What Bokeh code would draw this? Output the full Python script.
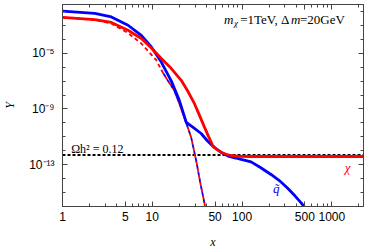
from bokeh.plotting import figure
from bokeh.models import LogAxis, FixedTicker, CustomJSTickFormatter, Range1d
from bokeh.core.properties import value
from bokeh.embed import file_html
from bokeh.resources import INLINE

# ---- data ----
# chi abundance (red solid)
x_chi = [1, 2.29, 3.5, 5.37, 7.55, 9.76, 12.6, 16.3, 21, 25, 29.5, 33, 38.1, 42.5, 47.1, 52, 58.4, 66, 75.6, 90, 126, 200, 500, 1000, 2250]
log10_Y_chi = [-2.43, -2.58, -2.79, -3.35, -3.94, -4.62, -5.38, -6.10, -6.94, -7.75, -8.62, -9.35, -10.30, -11.0, -11.62, -11.90, -12.10, -12.25, -12.34, -12.40, -12.41, -12.41, -12.41, -12.41, -12.41]

# squark abundance (blue solid)
x_sq = [1, 2.29, 3.5, 5.37, 7.55, 9.76, 12.6, 16.3, 20, 23.9, 29, 35, 41, 48.9, 58, 70, 85, 97.5, 126, 160, 210, 260, 322, 390, 452, 541]
log10_Y_sq = [-1.98, -2.14, -2.39, -2.99, -3.71, -4.55, -5.63, -7.0, -8.38, -9.96, -10.36, -10.76, -11.28, -11.76, -12.10, -12.38, -12.52, -12.62, -12.80, -13.20, -13.70, -14.14, -14.69, -15.25, -15.72, -16.35]

# equilibrium abundances (dashed)
x_chi_eq = [1, 2.29, 3.5, 5.37, 7.55, 9.76, 11.1, 12.6, 14.5, 17.5, 20, 22.7, 27.1, 30.8, 34.5, 38.8]
log10_Y_chi_eq = [-2.43, -2.60, -2.87, -3.55, -4.30, -5.10, -5.50, -6.2, -6.85, -7.66, -8.6, -9.60, -11.04, -12.70, -14.4, -16.0]
x_sq_eq = [12.6, 14.5, 17.5, 20, 22.7, 27.1, 30.8, 34.5, 38.8]
log10_Y_sq_eq = [-6.2, -6.85, -7.66, -8.6, -9.60, -11.04, -12.70, -14.4, -16.0]

# relic density reference line
x_ref = [1, 2250]
Y_ref = [5.0e-13, 5.0e-13]

x_major_ticks = [1, 5, 10, 50, 100, 500, 1000]
x_minor_ticks = [2, 3, 4, 6, 7, 8, 9, 20, 30, 40, 60, 70, 80, 90, 200, 300, 400, 600, 700, 800, 900, 2000]
y_major_ticks = [1e-13, 1e-9, 1e-5]
y_minor_ticks = [1e-2, 1e-3, 1e-4, 1e-6, 1e-7, 1e-8, 1e-10, 1e-11, 1e-12, 1e-14, 1e-15]

Y_chi = [10 ** v for v in log10_Y_chi]
Y_sq = [10 ** v for v in log10_Y_sq]
Y_chi_eq = [10 ** v for v in log10_Y_chi_eq]
Y_sq_eq = [10 ** v for v in log10_Y_sq_eq]

RED = "#ff0000"
BLUE = "#0000ff"
FRAME = "#444444"
SERIF = value("Liberation Serif")

p = figure(width=369, height=252, x_axis_type="log", y_axis_type="log",
           x_range=Range1d(1, 2250), y_range=Range1d(1e-16, 10 ** -1.5),
           output_backend="svg", toolbar_location=None, title=None,
           min_border_left=61, min_border_right=6, min_border_top=4, min_border_bottom=46)
p.xgrid.visible = False
p.ygrid.visible = False
p.outline_line_color = FRAME
p.background_fill_color = "white"
p.border_fill_color = "white"

xticker = FixedTicker(ticks=x_major_ticks, minor_ticks=x_minor_ticks)
yticker = FixedTicker(ticks=y_major_ticks, minor_ticks=y_minor_ticks)

sup_code = """
const sup = {'-':'\u207b','0':'\u2070','1':'\u00b9','2':'\u00b2','3':'\u00b3','4':'\u2074','5':'\u2075','6':'\u2076','7':'\u2077','8':'\u2078','9':'\u2079'};
const e = Math.round(Math.log10(tick));
return '10' + String(e).split('').map(c => sup[c]).join('');
"""

xa = p.xaxis[0]
xa.ticker = xticker
xa.formatter = CustomJSTickFormatter(code="return String(Math.round(tick));")
ya = p.yaxis[0]
ya.ticker = yticker
ya.formatter = CustomJSTickFormatter(code=sup_code)

for ax in (xa, ya):
    ax.axis_line_color = FRAME
    ax.major_tick_line_color = FRAME
    ax.minor_tick_line_color = FRAME
    ax.major_tick_in = 5
    ax.major_tick_out = 0
    ax.minor_tick_in = 3
    ax.minor_tick_out = 0
    ax.major_label_text_font = "Liberation Sans"
    ax.major_label_text_font_size = "12px"
    ax.major_label_text_color = "black"
    ax.axis_label_text_font = "Liberation Serif"
    ax.axis_label_text_font_style = "italic"
    ax.axis_label_text_font_size = "12px"
    ax.axis_label_text_color = "black"

xa.axis_label = "x"
xa.major_label_standoff = 5
xa.axis_label_standoff = 11
ya.axis_label = "Y"
ya.major_label_standoff = 8
ya.axis_label_standoff = 9

blank = CustomJSTickFormatter(code="return '';")
top = LogAxis(ticker=xticker, formatter=blank)
right = LogAxis(ticker=yticker, formatter=blank)
for ax in (top, right):
    ax.axis_line_color = FRAME
    ax.major_tick_line_color = FRAME
    ax.minor_tick_line_color = FRAME
    ax.major_tick_in = 5
    ax.major_tick_out = 0
    ax.minor_tick_in = 3
    ax.minor_tick_out = 0
    ax.major_label_standoff = 0
    ax.major_label_text_font_size = "1px"
p.add_layout(top, "above")
p.add_layout(right, "right")

# curves
p.line(x_ref, Y_ref, line_color="black", line_width=2, line_dash="3 2")
p.line(x_sq_eq, Y_sq_eq, line_color=BLUE, line_width=1.8, line_dash="4 3", line_dash_offset=3)
p.line(x_chi_eq, Y_chi_eq, line_color=RED, line_width=1.8, line_dash="4 3")
p.line(x_sq, Y_sq, line_color=BLUE, line_width=2.8)
p.line(x_chi, Y_chi, line_color=RED, line_width=2.8)

# annotations
fs = "13px"
p.text(x=[63], y=[10 ** -2.55], text=["m"], text_font=SERIF, text_font_style="italic",
       text_font_size=fs, text_baseline="alphabetic", text_align="left", text_color="black")
p.text(x=[81.5], y=[10 ** -2.8], text=["\u03c7"], text_font=SERIF, text_font_style="italic",
       text_font_size="9px", text_baseline="alphabetic", text_align="left", text_color="black")
p.text(x=[95.2], y=[10 ** -2.55], text=["=1TeV, \u0394"], text_font=SERIF,
       text_font_size=fs, text_baseline="alphabetic", text_align="left", text_color="black")
p.text(x=[10 ** (229 / 90)], y=[10 ** -2.55], text=["m"], text_font=SERIF, text_font_style="italic",
       text_font_size=fs, text_baseline="alphabetic", text_align="left", text_color="black")
p.text(x=[10 ** (238 / 90)], y=[10 ** -2.55], text=["=20GeV"], text_font=SERIF,
       text_font_size=fs, text_baseline="alphabetic", text_align="left", text_color="black")

p.text(x=[1.25], y=[10 ** -11.85], text=["\u03a9h\u00b2 = 0.12"], text_font=SERIF,
       text_font_size="12px", text_baseline="alphabetic", text_align="left", text_color="black")
p.text(x=[1500], y=[10 ** -13.2], text=["\u03c7"], text_font=SERIF, text_font_style="italic",
       text_font_size="13px", text_baseline="middle", text_align="center", text_color=RED)
p.text(x=[240], y=[10 ** -14.71], text=["q\u0303"], text_font=SERIF, text_font_style="italic",
       text_font_size="13px", text_baseline="middle", text_align="center", text_color=BLUE)

open("out.html", "w").write(file_html(p, INLINE))
